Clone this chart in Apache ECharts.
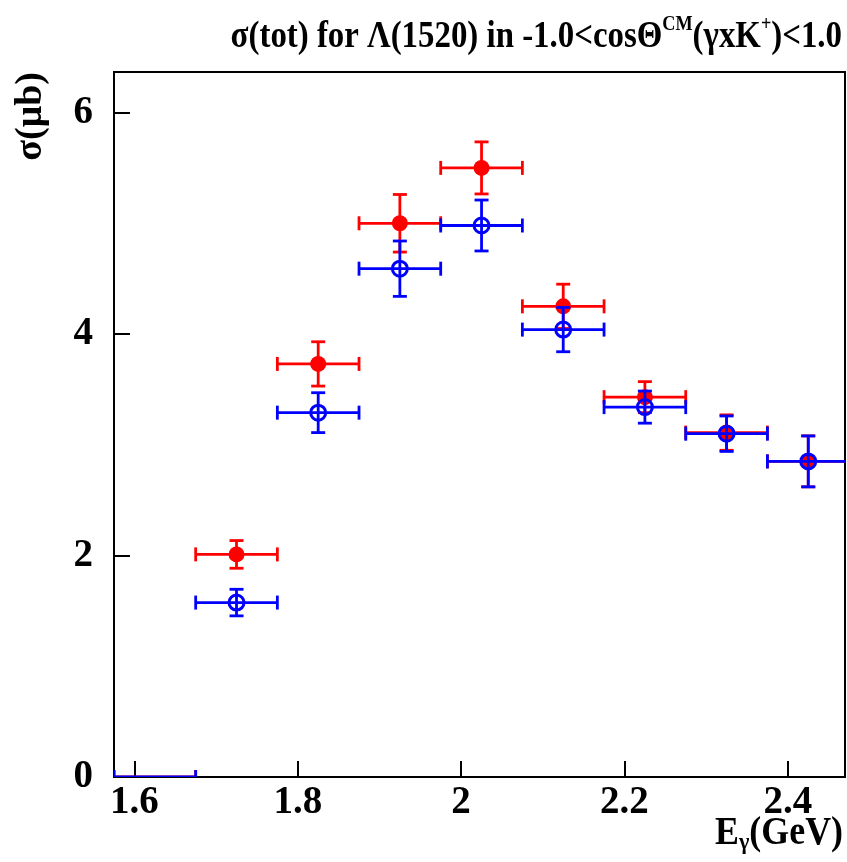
<!DOCTYPE html>
<html><head><meta charset="utf-8">
<script src="https://cdn.jsdelivr.net/npm/echarts@6/dist/echarts.min.js"></script>
<style>html,body{margin:0;padding:0;background:#fff}#c{width:847px;height:862px}</style>
</head><body><div id="c"></div>
<script>
// Data
const energies = [1.625, 1.725, 1.825, 1.925, 2.025, 2.125, 2.225, 2.325, 2.425];
const binHalfWidth = [0.05, 0.05, 0.05, 0.05, 0.05, 0.05, 0.05, 0.05, 0.05];
const redSigma = [0, 2.01, 3.73, 5.00, 5.50, 4.25, 3.43, 3.11, 2.85];
const redErr   = [0, 0.125, 0.20, 0.26, 0.235, 0.20, 0.14, 0.16, 0.23];
const blueSigma = [0, 1.575, 3.29, 4.59, 4.98, 4.04, 3.34, 3.10, 2.85];
const blueErr   = [0, 0.12, 0.18, 0.25, 0.23, 0.20, 0.145, 0.16, 0.23];
const xTicks = [1.6, 1.8, 2.0, 2.2, 2.4];
const yTicks = [0, 2, 4, 6];

const FONT = 'Liberation Serif';
function rows(s, e) { return energies.map((x, i) => [x, s[i], binHalfWidth[i], e[i]]); }

function errRender(color) {
  return function (params, api) {
    const x = api.value(0), y = api.value(1), dx = api.value(2), dy = api.value(3);
    const pL = api.coord([x - dx, y]), pR = api.coord([x + dx, y]);
    const pT = api.coord([x, y + dy]), pB = api.coord([x, y - dy]);
    const c = 7;
    const st = { stroke: color, lineWidth: 2.8 };
    const ch = [
      { type: 'line', shape: { x1: pL[0], y1: pL[1], x2: pR[0], y2: pR[1] }, style: st },
      { type: 'line', shape: { x1: pL[0], y1: pL[1] - c, x2: pL[0], y2: pL[1] + c }, style: st },
      { type: 'line', shape: { x1: pR[0], y1: pR[1] - c, x2: pR[0], y2: pR[1] + c }, style: st }
    ];
    if (dy > 0) {
      ch.push({ type: 'line', shape: { x1: pT[0], y1: pT[1], x2: pB[0], y2: pB[1] }, style: st });
      ch.push({ type: 'line', shape: { x1: pT[0] - c, y1: pT[1], x2: pT[0] + c, y2: pT[1] }, style: st });
      ch.push({ type: 'line', shape: { x1: pB[0] - c, y1: pB[1], x2: pB[0] + c, y2: pB[1] }, style: st });
    }
    return { type: 'group', children: ch };
  };
}

const chart = echarts.init(document.getElementById('c'), null, { renderer: 'canvas' });
chart.setOption({
  animation: false,
  backgroundColor: '#fff',
  grid: { left: 114, right: 2, top: 72, bottom: 85, show: true, borderColor: '#000', borderWidth: 2, backgroundColor: 'transparent' },
  xAxis: {
    type: 'value', min: 1.575, max: 2.47,
    axisLine: { show: true, onZero: false, lineStyle: { color: '#000', width: 2 } },
    axisTick: { show: true, inside: true, length: 16, customValues: xTicks, lineStyle: { color: '#000', width: 2 } },
    axisLabel: { customValues: xTicks, fontFamily: FONT, fontWeight: 'bold', fontSize: 39, color: '#000', margin: 6,
      formatter: v => (Math.round(v * 10) / 10).toString() },
    splitLine: { show: false }
  },
  yAxis: {
    type: 'value', min: 0, max: 6.366,
    axisLine: { show: true, lineStyle: { color: '#000', width: 2 } },
    axisTick: { show: true, inside: true, length: 16, customValues: yTicks, lineStyle: { color: '#000', width: 2 } },
    axisLabel: { customValues: yTicks, fontFamily: FONT, fontWeight: 'bold', fontSize: 39, color: '#000', margin: 21 },
    splitLine: { show: false }
  },
  graphic: [
    { type: 'text', x: 842, y: 37, scaleX: 0.865,
      style: { text: 'σ(tot) for Λ(1520) in -1.0<cosΘ{sup|CM}(γxK{sup|+})<1.0', fontFamily: FONT, fontWeight: 'bold', fontSize: 38, fill: '#000',
        align: 'right', verticalAlign: 'middle',
        rich: { sup: { fontFamily: FONT, fontWeight: 'bold', fontSize: 21, padding: [0, 0, 24, 0], verticalAlign: 'top' } } } },
    { type: 'text', x: 31, y: 72, rotation: Math.PI / 2,
      style: { text: 'σ(μb)', fontFamily: FONT, fontWeight: 'bold', fontSize: 38, fill: '#000', align: 'right', verticalAlign: 'middle' } },
    { type: 'text', x: 843, y: 834, scaleX: 0.92,
      style: { text: 'E{sub|γ}(GeV)', fontFamily: FONT, fontWeight: 'bold', fontSize: 39, fill: '#000', align: 'right', verticalAlign: 'middle',
        rich: { sub: { fontFamily: FONT, fontWeight: 'bold', fontSize: 24, padding: [18, 0, 0, 0], verticalAlign: 'bottom' } } } }
  ],
  series: [
    { type: 'custom', name: 'red err', data: rows(redSigma, redErr), renderItem: errRender('#ff0000'), clip: true, z: 2 },
    { type: 'scatter', name: 'red', data: rows(redSigma, redErr).filter(r => r[1] > 0), symbol: 'circle', symbolSize: 16,
      itemStyle: { color: '#ff0000', opacity: 1 }, z: 3, clip: true },
    { type: 'custom', name: 'blue err', data: rows(blueSigma, blueErr), renderItem: errRender('#0000ff'), clip: true, z: 4 },
    { type: 'scatter', name: 'blue', data: rows(blueSigma, blueErr).filter(r => r[1] > 0), symbol: 'circle', symbolSize: 15,
      itemStyle: { color: 'rgba(0,0,0,0)', borderColor: '#0000ff', borderWidth: 3, opacity: 1 }, z: 5, clip: true }
  ]
});
</script></body></html>
